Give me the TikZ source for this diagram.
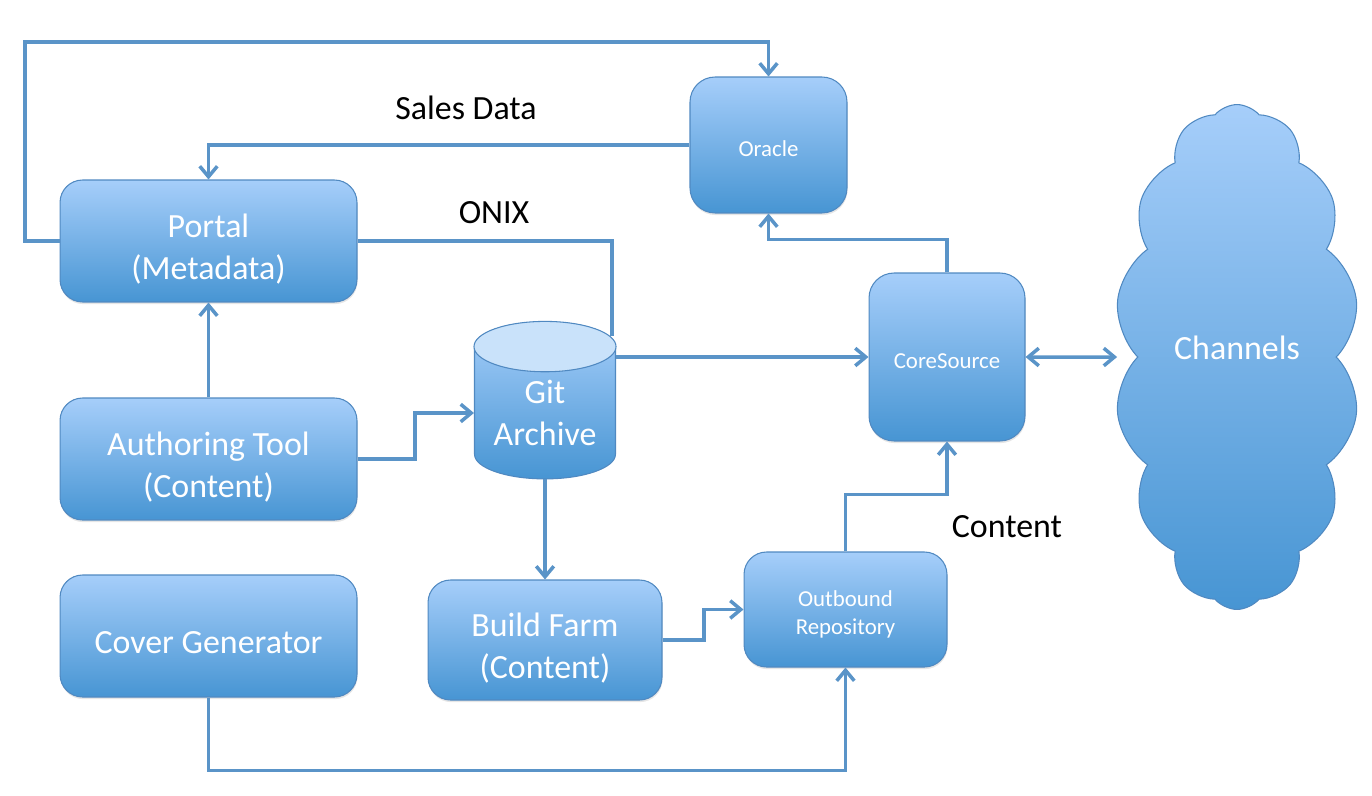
\documentclass[tikz,border=0pt]{standalone}
\usepackage{fontspec}
\setmainfont{Carlito}
\usetikzlibrary{arrows.meta,calc,shapes.geometric,shapes.symbols,shadows}
\definecolor{boxTop}{HTML}{A6CEFA}
\definecolor{boxBottom}{HTML}{4795D3}
\definecolor{boxEdge}{HTML}{5089C1}
\definecolor{wire}{HTML}{5A94C8}
\definecolor{gitLid}{HTML}{C9E2FA}
\def\bigText{\fontsize{19.3}{24}\selectfont}
\def\smallText{\fontsize{13}{16}\selectfont}
\def\boxW{5.94cm}
\def\boxH{2.44cm}
\newcommand{\lift}{\rule{0pt}{1.15em}}
\tikzset{
	block/.style={draw=boxEdge, line width=0.6pt, top color=boxTop, bottom color=boxBottom, rounded corners=0.45cm, text=white, align=center, inner sep=0pt, execute at begin node={\rule{0pt}{1.05em}}, drop shadow={opacity=0.2, shadow xshift=0.3pt, shadow yshift=-1.2pt}},
	link/.style={draw=wire, line width=2pt, -{Straight Barb[length=6pt,width=10pt]}},
	plain/.style={draw=wire, line width=2pt},
	tag/.style={text=black, font=\bigText}
}

\begin{document}
\begin{tikzpicture}[x=0.02cm, y=-0.02cm]
	\useasboundingbox (0,0) rectangle (1372,795);

	%left column
	\node[block, font=\bigText, minimum width=\boxW, minimum height=\boxH] (portal) at (208.5,241) {\lift Portal\\(Metadata)};
	\node[block, font=\bigText, minimum width=\boxW, minimum height=\boxH] (author) at (208.5,459) {\lift Authoring Tool\\(Content)};
	\node[block, font=\bigText, minimum width=\boxW, minimum height=\boxH] (cover) at (208.5,636) {Cover Generator};

	%middle, git store with its lid drawn on top
	\node[cylinder, shape border rotate=90, aspect=0.48, draw=boxEdge, line width=0.6pt, top color=boxTop, bottom color=boxBottom, text=white, align=center, font=\bigText, inner sep=0pt, minimum height=3.14cm, minimum width=2.82cm] (git) at (545,413) {Git\\Archive};
	\draw[draw=boxEdge, fill=gitLid, line width=0.6pt] let \p1=(git.before top), \p2=(git.after top), \p3=(git.top) in ($(\p1)!0.5!(\p2)$) ellipse [x radius={0.5*veclen(\x2-\x1,\y2-\y1)}, y radius={veclen(\x3-0.5*\x1-0.5*\x2,\y3-0.5*\y1-0.5*\y2)}];
	\node[block, font=\bigText, minimum width=4.68cm, minimum height=2.4cm] (build) at (545,640) {\lift Build Farm\\(Content)};
	\node[block, font=\smallText, minimum width=4.06cm, minimum height=2.3cm] (outbound) at (845.5,609.5) {\lift Outbound\\Repository};

	%right
	\node[block, font=\smallText, rounded corners=0.5cm, minimum width=3.14cm, minimum height=2.72cm] (oracle) at (768.5,145) {Oracle};
	\node[block, font=\smallText, rounded corners=0.5cm, minimum width=3.12cm, minimum height=3.36cm] (core) at (947,357) {CoreSource};
	\node[cloud, cloud puffs=14, cloud puff arc=100, aspect=0.5, draw=boxEdge, line width=0.6pt, top color=boxTop, bottom color=boxBottom, text=white, font=\bigText, text depth=10pt, minimum width=4.9cm, minimum height=10.1cm] (channels) at (1237,357) {Channels};

	%connectors
	\draw[link] (portal.west) -| (25,42) -| (oracle.north);
	\draw[link] (oracle.west) -| (portal.north);
	\draw[plain] (portal.east) -| (612,336);
	\draw[link] (author.north) -- (portal.south);
	\draw[link] (author.east) -- (415,459) |- (git.west);
	\draw[link] (git.east |- core.west) -- (core.west);
	\draw[link] (core.north) -- ++(0,-33) -| (oracle.south);
	\draw[link, {Straight Barb[length=6pt,width=10pt]}-{Straight Barb[length=6pt,width=10pt]}] (core.east) -- ([xshift=-0.4cm]channels.180);
	\draw[link] (git.south) -- (build.north);
	\draw[link] (build.east) -- (704,640) |- (outbound.west);
	\draw[link] (outbound.north) -- ++(0,-57) -| (core.south);
	\draw[link] (cover.south) -- ++(0,73) -| (outbound.south);

	%labels
	\node[tag] (salesLbl) at (466,108) {Sales Data};
	\node[tag] (onixLbl) at (494,213) {ONIX};
	\node[tag] (contentLbl) at (1007,527) {Content};
\end{tikzpicture}
\end{document}
